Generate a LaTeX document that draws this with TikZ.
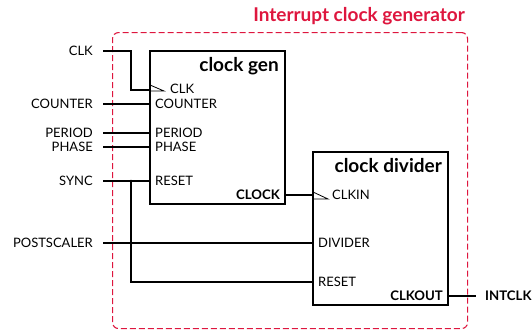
\documentclass[tikz,border=0pt]{standalone}
\usepackage{fontspec}
\setmainfont{Lato}
\definecolor{ired}{RGB}{222,22,62}
\begin{document}
\begin{tikzpicture}[x=1pt,y=-1pt,
  lbl/.style={font=\fontsize{13}{14}\selectfont, inner sep=0pt},
  blbl/.style={font=\fontsize{13.2}{14}\selectfont\bfseries, inner sep=0pt},
  ttl/.style={font=\fontsize{19}{21}\selectfont\bfseries, inner sep=0pt},
  blockbox/.style={draw, line width=1.2pt, inner sep=0pt, outer sep=0pt, anchor=north west},
  wire/.style={line width=1.1pt},
  clk/.style={line width=0.8pt}]
\useasboundingbox (0,0) rectangle (532,330);

% group box
\node[draw=ired, dashed, dash pattern=on 6pt off 3pt, line width=1.1pt, rounded corners=6pt,
  minimum width=355pt, minimum height=296pt, inner sep=0pt, anchor=north west] (grp) at (112,32) {};
\node[ttl, text=ired, anchor=east] (grpt) at (465,16) {Interrupt clock generator};

% blocks
\node[blockbox, minimum width=135pt, minimum height=153pt] (gen) at (150,51) {};
\node[blockbox, minimum width=135pt, minimum height=153pt] (div) at (313,152) {};
\node[ttl, anchor=east] (gent) at (279,66) {clock gen};
\node[ttl, anchor=east] (divt) at (442,166) {clock divider};

% clock gen pins
\coordinate (gclk) at (150,90);
\coordinate (gcnt) at (150,104);
\coordinate (gper) at (150,133);
\coordinate (gpha) at (150,147);
\coordinate (grst) at (150,181);
\coordinate (gout) at (285,195);
\node[lbl, anchor=west] (lgclk) at (170,89) {CLK};
\node[lbl, anchor=west] (lgcnt) at (155,104) {COUNTER};
\node[lbl, anchor=west] (lgper) at (155,133) {PERIOD};
\node[lbl, anchor=west] (lgpha) at (155,147) {PHASE};
\node[lbl, anchor=west] (lgrst) at (155,181) {RESET};
\node[blbl, anchor=east] (lgout) at (280,195) {CLOCK};
\draw[clk] (150,85) -- (164,91) -- (150,91);

% clock divider pins
\coordinate (dclk) at (313,195);
\coordinate (ddiv) at (313,243);
\coordinate (drst) at (313,282);
\coordinate (dout) at (448,296);
\node[lbl, anchor=west] (ldclk) at (332,195) {CLKIN};
\node[lbl, anchor=west] (lddiv) at (318,243) {DIVIDER};
\node[lbl, anchor=west] (ldrst) at (318,282) {RESET};
\node[blbl, anchor=east] (ldout) at (443,296) {CLKOUT};
\draw[clk] (313,192) -- (328,199) -- (313,199);

% external signals
\node[lbl, anchor=east] (sclk) at (93,51) {CLK};
\node[lbl, anchor=east] (scnt) at (93,104) {COUNTER};
\node[lbl, anchor=east] (sper) at (93,133) {PERIOD};
\node[lbl, anchor=east] (spha) at (93,147) {PHASE};
\node[lbl, anchor=east] (ssync) at (93,181) {SYNC};
\node[lbl, anchor=east] (spost) at (93,243) {POSTSCALER};
\node[blbl, anchor=west] (sint) at (485,296) {INTCLK};

\coordinate (aclk) at (103,51);
\coordinate (acnt) at (103,104);
\coordinate (aper) at (103,133);
\coordinate (apha) at (103,147);
\coordinate (async) at (103,181);
\coordinate (apost) at (103,243);
\coordinate (aint) at (476,296);
\coordinate (jn) at (131,181);

\draw[wire] (aclk) -| (131,90) -- (gclk);
\draw[wire] (acnt) -- (gcnt);
\draw[wire] (aper) -- (gper);
\draw[wire] (apha) -- (gpha);
\draw[wire] (async) -- (grst);
\draw[wire] (jn) |- (drst);
\fill (jn) circle (1.4pt);
\draw[wire] (apost) -- (ddiv);
\draw[wire] (gout) -- (dclk);
\draw[wire] (dout) -- (aint);
\end{tikzpicture}
\end{document}
